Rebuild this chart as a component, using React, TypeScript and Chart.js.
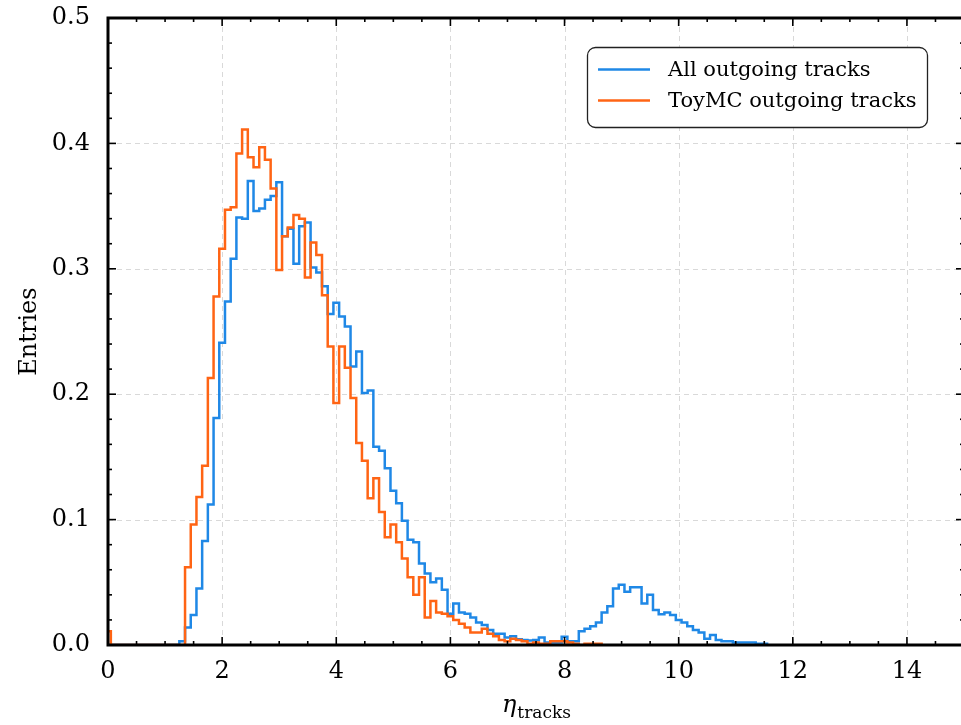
import React, { useEffect, useRef } from 'react';
import { Chart, registerables } from 'chart.js';

Chart.register(...registerables);

// ---- data (bin width 0.1, centred on multiples of 0.1) ----
const BIN_WIDTH = 0.1;
const FIRST_CENTER = 0.0;

// "All outgoing tracks" bin contents, centres 0.0 ... 11.5
const allTracks = [
  0, 0, 0, 0, 0, 0, 0, 0, 0, 0, 0, 0, 0,
  0.003, 0.014, 0.024, 0.045, 0.083, 0.112, 0.181,
  0.241, 0.274, 0.308, 0.341, 0.340, 0.370, 0.346, 0.348, 0.355, 0.358,
  0.369, 0.326, 0.332, 0.304, 0.334, 0.337, 0.301, 0.297, 0.286, 0.264,
  0.273, 0.262, 0.254, 0.222, 0.234, 0.201, 0.203, 0.158, 0.155, 0.141,
  0.123, 0.113, 0.099, 0.084, 0.082, 0.065, 0.057, 0.050, 0.053, 0.044,
  0.025, 0.033, 0.026, 0.025, 0.022, 0.018, 0.016, 0.012, 0.009, 0.009,
  0.006, 0.007, 0.0045, 0.004, 0.0035, 0.004, 0.006, 0.002, 0.002, 0.002,
  0.0066, 0.003, 0.003, 0.011, 0.013, 0.015, 0.018, 0.026, 0.031, 0.045,
  0.048, 0.0425, 0.046, 0.046, 0.033, 0.040, 0.028, 0.0245, 0.026, 0.024,
  0.020, 0.018, 0.015, 0.012, 0.010, 0.005, 0.008, 0.004, 0.003, 0.003,
  0.002, 0.002, 0.002, 0.002, 0.001, 0.001,
];

// "ToyMC outgoing tracks" bin contents, centres 0.0 ... 8.6
const toyTracks = [
  0.011,
  0, 0, 0, 0, 0, 0, 0, 0, 0, 0, 0, 0, 0,
  0.062, 0.096, 0.118, 0.143, 0.213, 0.278,
  0.316, 0.347, 0.349, 0.392, 0.411, 0.389, 0.381, 0.397, 0.387, 0.364,
  0.299, 0.326, 0.333, 0.343, 0.340, 0.293, 0.321, 0.311, 0.279, 0.238,
  0.193, 0.238, 0.221, 0.197, 0.161, 0.147, 0.117, 0.133, 0.106, 0.086,
  0.096, 0.082, 0.069, 0.054, 0.040, 0.054, 0.022, 0.035, 0.026, 0.025,
  0.023, 0.020, 0.017, 0.014, 0.010, 0.010, 0.013, 0.009, 0.007, 0.004,
  0.003, 0.005, 0.004, 0.003, 0.001, 0.002, 0.001, 0.001, 0.003, 0.003,
  0.003, 0.002, 0.001, 0, 0.001, 0.001, 0.001,
];

const seriesLabels = ['All outgoing tracks', 'ToyMC outgoing tracks'];
const xTicks = [0, 2, 4, 6, 8, 10, 12, 14];
const yTicks = [0, 0.1, 0.2, 0.3, 0.4, 0.5];
const X_MIN = 0;
const X_MAX = 15;
const Y_MIN = 0;
const Y_MAX = 0.5;
const X_MINOR_STEP = 0.5;
const Y_MINOR_STEP = 0.02;

// ---- styles ----
const BLUE = '#1f88e6';
const ORANGE = '#ff6414';
const FONT = '"DejaVu Serif", "Liberation Serif", serif';
const TICK_FONT_SIZE = 24;
const TITLE_FONT_SIZE = 24;
const LEGEND_FONT_SIZE = 21;
const LINE_WIDTH = 2.5;

function toSteps(values: number[]) {
  const start = FIRST_CENTER - BIN_WIDTH / 2;
  const pts: { x: number; y: number }[] = [{ x: start, y: 0 }];
  values.forEach((v, i) => pts.push({ x: start + i * BIN_WIDTH, y: v }));
  pts.push({ x: start + values.length * BIN_WIDTH, y: 0 });
  return pts;
}

function range(a: number, b: number, step: number) {
  const out: number[] = [];
  const n = Math.round((b - a) / step);
  for (let i = 0; i <= n; i++) out.push(a + i * step);
  return out;
}

const decorPlugin = {
  id: 'decor',
  beforeDatasetsDraw(chart: any) {
    const { ctx, chartArea: a, scales } = chart;
    const x = scales.x;
    const y = scales.y;
    ctx.save();
    ctx.strokeStyle = '#d9d9d9';
    ctx.lineWidth = 1;
    ctx.setLineDash([5, 4]);
    for (const t of xTicks) {
      if (t <= X_MIN || t >= X_MAX) continue;
      const px = Math.round(x.getPixelForValue(t)) + 0.5;
      ctx.beginPath();
      ctx.moveTo(px, a.top);
      ctx.lineTo(px, a.bottom);
      ctx.stroke();
    }
    for (const t of yTicks) {
      if (t <= Y_MIN || t >= Y_MAX) continue;
      const py = Math.round(y.getPixelForValue(t)) + 0.5;
      ctx.beginPath();
      ctx.moveTo(a.left, py);
      ctx.lineTo(a.right, py);
      ctx.stroke();
    }
    ctx.restore();
  },
  afterDatasetsDraw(chart: any) {
    const { ctx, chartArea: a, scales } = chart;
    const x = scales.x;
    const y = scales.y;
    ctx.save();
    ctx.strokeStyle = '#000';
    ctx.lineCap = 'butt';
    ctx.lineWidth = 1.6;
    const tick = (x1: number, y1: number, x2: number, y2: number) => {
      ctx.beginPath();
      ctx.moveTo(x1, y1);
      ctx.lineTo(x2, y2);
      ctx.stroke();
    };
    for (const t of range(X_MIN, X_MAX, X_MINOR_STEP)) {
      const major = xTicks.includes(t);
      const len = major ? 8 : 4;
      const px = x.getPixelForValue(t);
      tick(px, a.bottom, px, a.bottom - len);
      tick(px, a.top, px, a.top + len);
    }
    for (const t of range(Y_MIN, Y_MAX, Y_MINOR_STEP)) {
      const major = yTicks.some((v) => Math.abs(v - t) < 1e-9);
      const len = major ? 8 : 4;
      const py = y.getPixelForValue(t);
      tick(a.left, py, a.left + len, py);
      tick(a.right, py, a.right - len, py);
    }
    ctx.lineWidth = 3;
    ctx.strokeRect(a.left, a.top, a.right - a.left, a.bottom - a.top);
    ctx.restore();
  },
  afterDraw(chart: any) {
    const { ctx, chartArea: a } = chart;
    ctx.save();
    ctx.fillStyle = '#000';
    // y title
    ctx.font = `${TITLE_FONT_SIZE}px ${FONT}`;
    ctx.textAlign = 'center';
    ctx.textBaseline = 'middle';
    ctx.translate(30, (a.top + a.bottom) / 2);
    ctx.rotate(-Math.PI / 2);
    ctx.fillText('Entries', 0, 0);
    ctx.setTransform(1, 0, 0, 1, 0, 0);
    // x title: eta with subscript "tracks"
    const cx = (a.left + a.right) / 2;
    const mainFont = `italic ${TITLE_FONT_SIZE}px ${FONT}`;
    const subFont = `${Math.round(TITLE_FONT_SIZE * 0.7)}px ${FONT}`;
    ctx.font = mainFont;
    const w1 = ctx.measureText('η').width;
    ctx.font = subFont;
    const w2 = ctx.measureText('tracks').width;
    const x0 = cx - (w1 + w2) / 2;
    ctx.textAlign = 'left';
    ctx.textBaseline = 'alphabetic';
    ctx.font = mainFont;
    ctx.fillText('η', x0, 712);
    ctx.font = subFont;
    ctx.fillText('tracks', x0 + w1 + 1, 718);
    // legend
    const lx = 587.5;
    const ly = 47.5;
    const lw = 340;
    const lh = 80;
    ctx.beginPath();
    ctx.roundRect(lx, ly, lw, lh, 8);
    ctx.fillStyle = '#fff';
    ctx.fill();
    ctx.strokeStyle = '#222';
    ctx.lineWidth = 1.3;
    ctx.stroke();
    const rows = [
      { label: seriesLabels[0], color: BLUE, y: 69.5 },
      { label: seriesLabels[1], color: ORANGE, y: 100.5 },
    ];
    ctx.font = `${LEGEND_FONT_SIZE}px ${FONT}`;
    for (const r of rows) {
      ctx.strokeStyle = r.color;
      ctx.lineWidth = LINE_WIDTH;
      ctx.beginPath();
      ctx.moveTo(598, r.y);
      ctx.lineTo(650, r.y);
      ctx.stroke();
      ctx.fillStyle = '#000';
      ctx.textAlign = 'left';
      ctx.textBaseline = 'middle';
      ctx.fillText(r.label, 668, r.y + 1);
    }
    ctx.restore();
  },
};

export default function App() {
  const canvasRef = useRef<HTMLCanvasElement | null>(null);

  useEffect(() => {
    document.body.style.margin = '0';
    document.body.style.overflow = 'hidden';
    const canvas = canvasRef.current;
    if (!canvas) return;
    const chart = new Chart(canvas, {
      type: 'line',
      data: {
        datasets: [
          {
            label: seriesLabels[1],
            data: toSteps(toyTracks),
            borderColor: ORANGE,
            borderWidth: LINE_WIDTH,
            pointRadius: 0,
            stepped: 'before',
            fill: false,
            order: 1,
          },
          {
            label: seriesLabels[0],
            data: toSteps(allTracks),
            borderColor: BLUE,
            borderWidth: LINE_WIDTH,
            pointRadius: 0,
            stepped: 'before',
            fill: false,
            order: 2,
          },
        ],
      },
      options: {
        animation: false,
        responsive: false,
        events: [],
        layout: { padding: { top: 18, right: 36, left: 0, bottom: 0 } },
        plugins: { legend: { display: false }, tooltip: { enabled: false } },
        scales: {
          x: {
            type: 'linear',
            min: X_MIN,
            max: X_MAX,
            afterBuildTicks: (s: any) => {
              s.ticks = xTicks.map((v) => ({ value: v }));
            },
            afterFit: (s: any) => {
              s.height = 80;
              s.paddingLeft = 0;
              s.paddingRight = 0;
            },
            grid: { display: false, drawTicks: false },
            border: { display: false },
            ticks: {
              color: '#000',
              font: { family: FONT, size: TICK_FONT_SIZE },
              padding: 12,
              maxRotation: 0,
              autoSkip: false,
              callback: (v: any) => String(v),
            },
          },
          y: {
            type: 'linear',
            min: Y_MIN,
            max: Y_MAX,
            afterBuildTicks: (s: any) => {
              s.ticks = yTicks.map((v) => ({ value: v }));
            },
            afterFit: (s: any) => {
              s.width = 108;
              s.paddingTop = 0;
              s.paddingBottom = 0;
            },
            grid: { display: false, drawTicks: false },
            border: { display: false },
            ticks: {
              color: '#000',
              font: { family: FONT, size: TICK_FONT_SIZE },
              padding: 18,
              callback: (v: any) => Number(v).toFixed(1),
            },
          },
        },
      },
      plugins: [decorPlugin],
    });
    return () => chart.destroy();
  }, []);

  return (
    <div style={{ position: 'fixed', left: 0, top: 0, width: 961, height: 725, overflow: 'hidden', background: '#fff' }}>
      <canvas ref={canvasRef} width={1000} height={725} style={{ position: 'absolute', left: 0, top: 0, width: 1000, height: 725 }} />
    </div>
  );
}
